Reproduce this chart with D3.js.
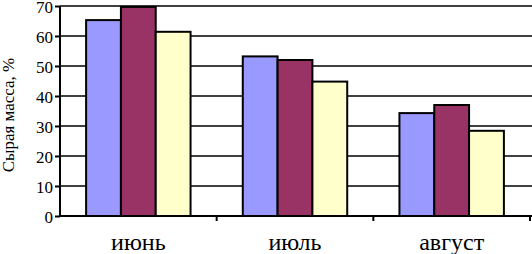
<!DOCTYPE html>
<html><head><meta charset="utf-8">
<script src="https://cdn.jsdelivr.net/npm/d3@7"></script>
<style>
html,body{margin:0;padding:0;background:#fff;}
svg{display:block;}
</style></head>
<body>
<svg id="c" width="532" height="254"></svg>
<script>
const categories = ["июнь", "июль", "август"];
const seriesNames = ["s1", "s2", "s3"];
const series1 = [65.3, 53.2, 34.3];
const series2 = [69.7, 52.0, 37.0];
const series3 = [61.4, 44.8, 28.4];
const yTicks = [0, 10, 20, 30, 40, 50, 60, 70];
const yLabel = "Сырая масса, %";
const colors = ["#9999FF", "#993366", "#FFFFCC"];
const FONT = "'Liberation Serif', 'DejaVu Serif', 'Times New Roman', serif";

const seriesValues = [series1, series2, series3];
const svg = d3.select("#c");
const mL = 60, mR = 530, mT = 6, mB = 216;

const x = d3.scaleBand().domain(categories).range([mL, mR]).paddingInner(0).paddingOuter(0);
const xs = d3.scaleBand().domain(seriesNames).range([0, x.bandwidth()]).paddingInner(0).paddingOuter(0.75);
const y = d3.scaleLinear().domain([0, 70]).range([mB, mT]);

// gridlines
svg.append("g").selectAll("line").data(yTicks.filter(d => d > 0)).join("line")
  .attr("x1", mL).attr("x2", 532)
  .attr("y1", d => y(d)).attr("y2", d => y(d))
  .attr("stroke", "#000").attr("stroke-width", 1.5);

// bars
const data = [];
categories.forEach((c, i) => seriesNames.forEach((s, j) => data.push({c, s, j, v: seriesValues[j][i]})));
svg.append("g").selectAll("rect").data(data).join("rect")
  .attr("x", d => x(d.c) + xs(d.s))
  .attr("y", d => y(d.v))
  .attr("width", xs.bandwidth())
  .attr("height", d => mB - y(d.v))
  .attr("fill", d => colors[d.j])
  .attr("stroke", "#000").attr("stroke-width", 2);

// y axis
const ya = svg.append("g").attr("transform", `translate(${mL},0)`)
  .call(d3.axisLeft(y).tickValues(yTicks).tickSize(5).tickPadding(2).tickFormat(d3.format("d")));
ya.attr("font-family", FONT).attr("font-size", 17);
ya.selectAll("path,line").attr("stroke", "#000").attr("stroke-width", 2);
ya.select("path").attr("d", `M0,${mT}V${mB}`);
ya.selectAll("text").attr("fill", "#000").attr("dy", "0.36em");

// x axis
const xa = svg.append("g").attr("transform", `translate(0,${mB})`);
xa.append("line").attr("x1", mL).attr("x2", 532).attr("stroke", "#000").attr("stroke-width", 2);
xa.selectAll("line.t").data(categories).join("line").attr("class", "t")
  .attr("x1", d => x(d) + x.bandwidth()).attr("x2", d => x(d) + x.bandwidth())
  .attr("y1", 0).attr("y2", 5).attr("stroke", "#000").attr("stroke-width", 2);
xa.selectAll("text").data(categories).join("text")
  .attr("x", d => x(d) + x.bandwidth() / 2).attr("y", 34)
  .attr("text-anchor", "middle").attr("font-family", FONT).attr("font-size", 24).text(d => d);

// y label
svg.append("text").attr("transform", "translate(14,115) rotate(-90)")
  .attr("text-anchor", "middle").attr("font-family", FONT).attr("font-size", 17).text(yLabel);
</script>
</body></html>
